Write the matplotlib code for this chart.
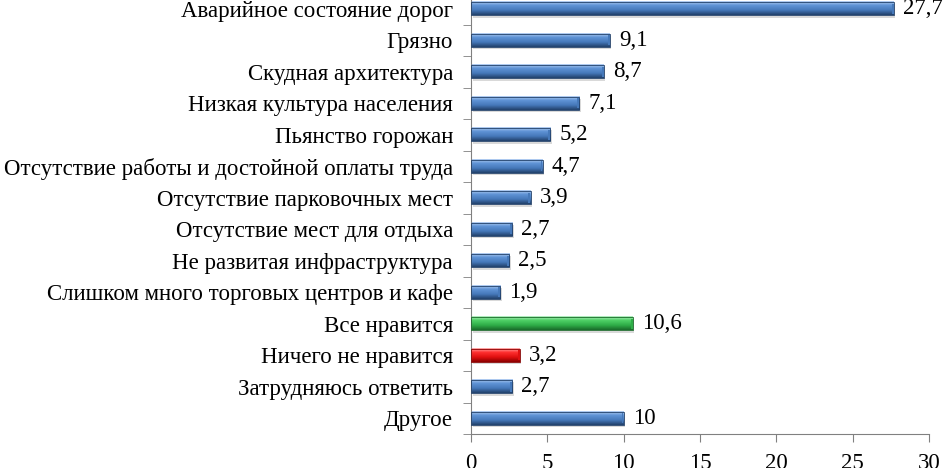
import numpy as np
import matplotlib
matplotlib.use("Agg")
import matplotlib.pyplot as plt
from matplotlib.colors import LinearSegmentedColormap

categories = [
    "Аварийное состояние дорог",
    "Грязно",
    "Скудная архитектура",
    "Низкая культура населения",
    "Пьянство горожан",
    "Отсутствие работы и достойной оплаты труда",
    "Отсутствие парковочных мест",
    "Отсутствие мест для отдыха",
    "Не развитая инфраструктура",
    "Слишком много торговых центров и кафе",
    "Все нравится",
    "Ничего не нравится",
    "Затрудняюсь ответить",
    "Другое",
]
values = [27.7, 9.1, 8.7, 7.1, 5.2, 4.7, 3.9, 2.7, 2.5, 1.9, 10.6, 3.2, 2.7, 10]
value_labels = ["27,7", "9,1", "8,7", "7,1", "5,2", "4,7", "3,9", "2,7", "2,5", "1,9",
                "10,6", "3,2", "2,7", "10"]

# colour scheme per bar (top highlight -> bottom shade)
blue = ["#b7d0f2", "#5f93d6", "#4679ba", "#21406a"]
green = ["#b8f0c4", "#4fd066", "#2fae48", "#1a6a2a"]
red = ["#ffb0b0", "#ff3030", "#e01010", "#8a0000"]
bar_colors = [blue] * 10 + [green, red, blue, blue]

plt.rcParams['font.family'] = ['Liberation Serif', 'DejaVu Serif']

fig = plt.figure(figsize=(9.48, 4.68), dpi=100)
ax = fig.add_axes([471 / 948, 34 / 468, (929 - 471) / 948, 441 / 468])

n = len(categories)
ypos = np.arange(n)
h = 0.42

for y, v, cols in zip(ypos, values, bar_colors):
    cmap = LinearSegmentedColormap.from_list("g", [(0, cols[0]), (0.3, cols[1]),
                                                   (0.65, cols[2]), (1, cols[3])])
    grad = np.linspace(0, 1, 64).reshape(-1, 1)
    # soft shadow
    ax.barh(y + 0.07, v, height=h, left=0.1, color="#000000", alpha=0.15, zorder=1)
    ax.imshow(grad, cmap=cmap, aspect="auto", extent=(0, v, y + h / 2, y - h / 2),
              zorder=2, interpolation="bilinear")
    ax.barh(y, v, height=h, facecolor="none", edgecolor=cols[3], linewidth=0.6, zorder=3)
    # bevel at the right end
    ax.barh(y, 0.12, height=h * 0.75, left=v - 0.14, color=cols[2], zorder=3)

for y, v, lab in zip(ypos, values, value_labels):
    ax.text(v + 0.6, y, lab, va="center", ha="left", fontsize=16.5)

ax.set_xlim(0, 30)
ax.set_ylim(n - 0.5, -0.5)
ax.set_xticks(range(0, 31, 5))
ax.set_yticks(ypos)
ax.set_yticklabels(categories, fontsize=16.5)
ax.set_yticks(np.arange(-0.5, n, 1), minor=True)
ax.tick_params(axis="y", which="major", length=0, pad=13)
ax.tick_params(axis="y", which="minor", length=6, color="#808080", direction="out")
ax.tick_params(axis="x", length=6, color="#808080", labelsize=16.5, pad=8)
for s in ["top", "right"]:
    ax.spines[s].set_visible(False)
for s in ["left", "bottom"]:
    ax.spines[s].set_color("#808080")

fig.savefig("out.png", dpi=100)
